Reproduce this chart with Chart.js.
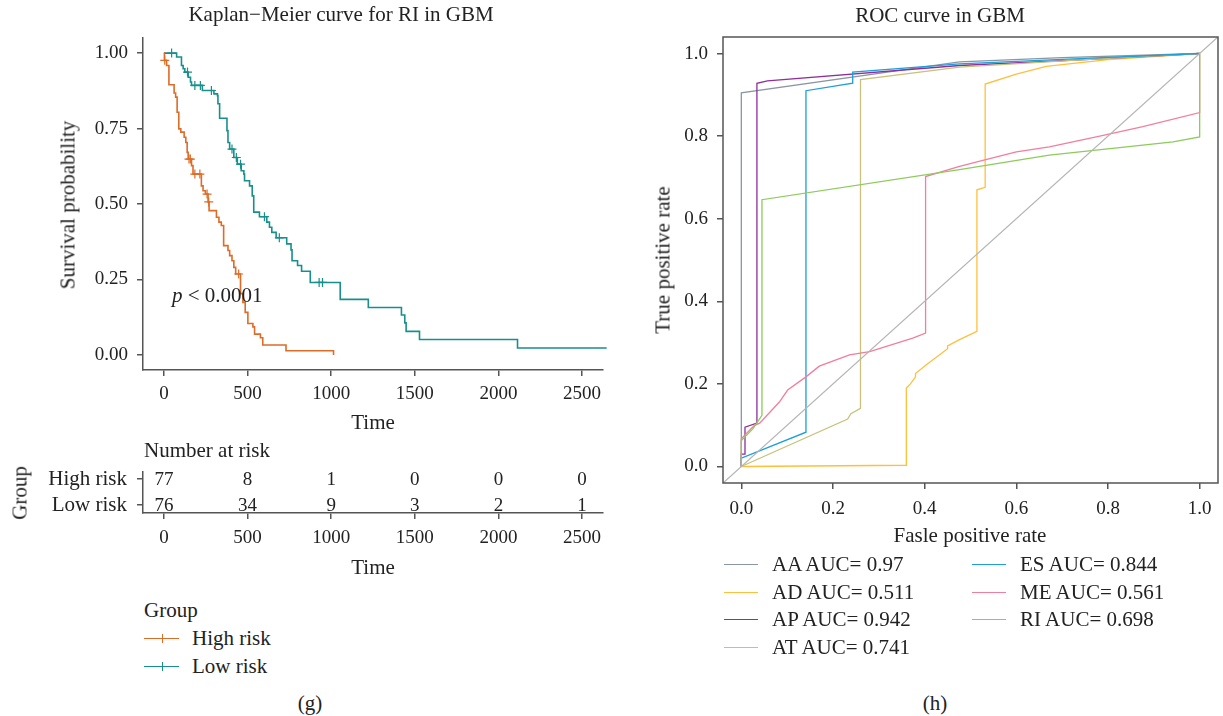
<!DOCTYPE html>
<html>
<head>
<meta charset="utf-8">
<script src="https://cdn.jsdelivr.net/npm/chart.js@4.4.1/dist/chart.umd.min.js"></script>
<style>
  body { margin: 0; background: #fff; width: 1223px; height: 716px; position: relative; overflow: hidden; }
  canvas { position: absolute; }
  .t { position: absolute; white-space: nowrap; font: 21px "Liberation Serif", "Times New Roman", serif; color: #222; line-height: 1; }
  .c { transform: translate(-50%, -50%); }
  .l { transform: translate(0, -50%); }
  .r { transform: translate(-50%, -50%) rotate(-90deg); }
  .key { position: absolute; height: 0; }
  .tick { position: absolute; width: 0; }
</style>
</head>
<body>

<canvas id="kmChart" width="620" height="440" style="left:0;top:0"></canvas>
<canvas id="riskChart" width="620" height="130" style="left:0;top:455px"></canvas>
<canvas id="rocChart" width="603" height="545" style="left:620px;top:0"></canvas>

<div class="t c" style="left:341px;top:14px">Kaplan−Meier curve for RI in GBM</div>
<div class="t r" style="left:68px;top:205px">Survival probability</div>
<div class="t c" style="left:373px;top:422px">Time</div>
<div class="t l" style="left:172px;top:295px"><i>p</i> &lt; 0.0001</div>
<div class="t l" style="left:144px;top:450px">Number at risk</div>
<div class="t r" style="left:20px;top:493px">Group</div>
<div class="t c" style="left:373px;top:567px">Time</div>
<div class="t l" style="left:144px;top:610px">Group</div>
<div class="t c" style="left:310px;top:703px">(g)</div>

<div class="t c" style="left:940px;top:15px">ROC curve in GBM</div>
<div class="t r" style="left:663px;top:260px">True positive rate</div>
<div class="t c" style="left:970px;top:535px">Fasle positive rate</div>
<div class="t c" style="left:935px;top:703px">(h)</div>

<script>
// ---- Kaplan-Meier data ----
const groupNames = ['High risk', 'Low risk'];
const groupColors = ['#DD6C27', '#17908B'];

const highTime = [0, 3, 16, 30, 61, 70, 79, 89, 101, 121, 131, 139, 145, 165, 174, 224, 234, 248, 264, 270,
  314, 329, 343, 357, 383, 393, 407, 418, 429, 458, 472, 486, 502, 532, 542, 577, 591, 730, 1014];
const highSurv = [1, 0.976, 0.959, 0.895, 0.868, 0.854, 0.804, 0.749, 0.738, 0.721, 0.704, 0.671, 0.649, 0.627, 0.599, 0.560, 0.544, 0.533, 0.507, 0.478,
  0.456, 0.440, 0.429, 0.362, 0.346, 0.329, 0.312, 0.290, 0.268, 0.203, 0.174, 0.141, 0.104, 0.093, 0.069, 0.057, 0.033, 0.014, 0];
const highCensorTime = [5, 150, 158, 185, 215, 258, 268, 447];
const highCensorSurv = [0.976, 0.649, 0.649, 0.599, 0.599, 0.533, 0.507, 0.268];

const lowTime = [0, 76, 105, 115, 125, 145, 159, 165, 230, 299, 320, 323, 333, 377, 383, 393, 418, 439, 462, 478,
  482, 512, 528, 537, 571, 615, 631, 645, 671, 734, 760, 766, 799, 823, 875, 1054, 1222, 1420, 1440, 1448, 1528, 2114, 2647];
const lowSurv = [1, 0.987, 0.959, 0.948, 0.937, 0.920, 0.904, 0.893, 0.876, 0.865, 0.859, 0.832, 0.784, 0.743, 0.704, 0.682, 0.654, 0.632, 0.610, 0.599,
  0.577, 0.560, 0.527, 0.473, 0.458, 0.440, 0.423, 0.406, 0.388, 0.368, 0.348, 0.312, 0.296, 0.277, 0.240, 0.184, 0.157, 0.132, 0.106, 0.078, 0.051, 0.023, 0.023];
const lowCensorTime = [46, 141, 185, 218, 284, 407, 433, 458, 601, 690, 928, 948];
const lowCensorSurv = [1, 0.937, 0.893, 0.893, 0.876, 0.682, 0.654, 0.632, 0.458, 0.388, 0.240, 0.240];

const timeTicks = [0, 500, 1000, 1500, 2000, 2500];
const survTicks = [0, 0.25, 0.5, 0.75, 1];

// number at risk table
const riskTimes = [0, 500, 1000, 1500, 2000, 2500];
const riskHigh = [77, 8, 1, 0, 0, 0];
const riskLow = [76, 34, 9, 3, 2, 1];

// ---- ROC data ----
const rocNames = ['AA', 'AD', 'AP', 'AT', 'ES', 'ME', 'RI'];
const rocAuc = ['0.97', '0.511', '0.942', '0.741', '0.844', '0.561', '0.698'];
const rocColors = ['#8A96A3', '#FFBF3C', '#8E2F9C', '#C8C27C', '#1D9FD8', '#F27E9E', '#8DCB5C'];

const aaFpr = [0, 0, 0.476, 0.7, 1];
const aaTpr = [0, 0.905, 0.98, 0.99, 1];
const adFpr = [0, 0.36, 0.36, 0.369, 0.38, 0.38, 0.403, 0.45, 0.45, 0.476, 0.514, 0.514, 0.532, 0.532, 0.6, 0.665, 0.8, 1];
const adTpr = [0, 0.003, 0.19, 0.2, 0.217, 0.225, 0.246, 0.285, 0.292, 0.307, 0.327, 0.67, 0.676, 0.926, 0.95, 0.969, 0.985, 1];
const apFpr = [0, 0, 0.008, 0.008, 0.034, 0.034, 0.057, 0.476, 0.75, 1];
const apTpr = [0, 0.03, 0.03, 0.095, 0.105, 0.928, 0.934, 0.971, 0.985, 1];
const atFpr = [0, 0.232, 0.239, 0.26, 0.26, 0.476, 0.75, 1];
const atTpr = [0, 0.115, 0.128, 0.141, 0.937, 0.967, 0.985, 1];
const esFpr = [0, 0, 0.141, 0.141, 0.243, 0.243, 0.476, 0.75, 1];
const esTpr = [0, 0.02, 0.083, 0.91, 0.928, 0.955, 0.975, 0.988, 1];
const meFpr = [0, 0, 0.01, 0.028, 0.04, 0.083, 0.101, 0.141, 0.17, 0.236, 0.28, 0.374, 0.402, 0.402, 0.476, 0.527, 0.6, 0.672, 0.782, 0.876, 1, 1];
const meTpr = [0, 0.067, 0.079, 0.099, 0.105, 0.156, 0.185, 0.217, 0.243, 0.27, 0.278, 0.311, 0.323, 0.702, 0.727, 0.741, 0.762, 0.774, 0.8, 0.823, 0.857, 1];
const riFpr = [0, 0, 0.025, 0.045, 0.045, 0.476, 0.672, 0.942, 1, 1];
const riTpr = [0, 0.063, 0.091, 0.124, 0.646, 0.719, 0.754, 0.786, 0.798, 1];

const rocFpr = [aaFpr, adFpr, apFpr, atFpr, esFpr, meFpr, riFpr];
const rocTpr = [aaTpr, adTpr, apTpr, atTpr, esTpr, meTpr, riTpr];
const rateTicks = [0, 0.2, 0.4, 0.6, 0.8, 1];

const serif = '"Liberation Serif", "Times New Roman", serif';
Chart.defaults.font.family = serif;
Chart.defaults.font.size = 19;
Chart.defaults.color = '#222';
Chart.defaults.animation = false;
Chart.defaults.plugins.legend.display = false;
Chart.defaults.plugins.tooltip.enabled = false;

const axisColor = '#555';

function pairs(xs, ys) {
    return xs.map((x, i) => ({ x: x, y: ys[i] }));
}

// shared axis setup: fixed tick list, outward tick marks, no grid inside
function axis(opts) {
    return {
        type: 'linear',
        position: opts.position,
        min: opts.min,
        max: opts.max,
        grid: { drawOnChartArea: false, drawTicks: true, tickLength: 6, color: axisColor, lineWidth: 1.5 },
        border: { display: opts.border !== false, color: axisColor, width: 1.5 },
        ticks: {
            padding: opts.padding,
            color: '#222',
            font: { family: serif, size: opts.fontSize || 19 },
            autoSkip: false,
            maxRotation: 0,
            callback: opts.format
        },
        afterBuildTicks: s => { s.ticks = opts.ticks.map(v => ({ value: v })); },
        afterFit: s => {
            // chart area is set by layout padding alone
            s.paddingTop = 0; s.paddingBottom = 0;
            s.paddingLeft = 0; s.paddingRight = 0;
            if (opts.position === 'left') s.width = opts.size;
            else s.height = opts.size;
        }
    };
}

// ---- survival curves ----
new Chart(document.getElementById('kmChart'), {
    type: 'line',
    data: {
        datasets: [
            { data: pairs(highTime, highSurv), borderColor: groupColors[0], borderWidth: 1.6, stepped: 'before', pointRadius: 0, clip: 8 },
            { data: pairs(lowTime, lowSurv), borderColor: groupColors[1], borderWidth: 1.6, stepped: 'before', pointRadius: 0, clip: 8 },
            { data: pairs(highCensorTime, highCensorSurv), showLine: false, pointStyle: 'cross', pointRadius: 4.5, borderColor: groupColors[0], borderWidth: 1.2 },
            { data: pairs(lowCensorTime, lowCensorSurv), showLine: false, pointStyle: 'cross', pointRadius: 4.5, borderColor: groupColors[1], borderWidth: 1.2 }
        ]
    },
    options: {
        responsive: false,
        layout: { padding: { left: 0, top: 38, right: 17, bottom: 0 } },
        scales: {
            x: axis({ position: 'bottom', min: -125, max: 2625, ticks: timeTicks, format: v => String(v), padding: 7, size: 70 }),
            y: axis({ position: 'left', min: -0.05, max: 1.05, ticks: survTicks, format: v => v.toFixed(2), padding: 9, size: 143 })
        }
    }
});

// ---- number at risk ----
const riskNumbers = {
    id: 'riskNumbers',
    afterDatasetsDraw(chart) {
        const { ctx, scales: { x, y } } = chart;
        ctx.save();
        ctx.font = '19px ' + serif;
        ctx.fillStyle = '#222';
        ctx.textAlign = 'center';
        ctx.textBaseline = 'middle';
        riskTimes.forEach((t, i) => {
            ctx.fillText(String(riskHigh[i]), x.getPixelForValue(t), y.getPixelForValue(1) + 1);
            ctx.fillText(String(riskLow[i]), x.getPixelForValue(t), y.getPixelForValue(0) + 1);
        });
        ctx.restore();
    }
};

new Chart(document.getElementById('riskChart'), {
    type: 'scatter',
    data: { datasets: [] },
    options: {
        responsive: false,
        layout: { padding: { left: 0, top: 17, right: 17, bottom: 0 } },
        scales: {
            x: axis({ position: 'bottom', min: -125, max: 2625, ticks: timeTicks, format: v => String(v), padding: 8, size: 72 }),
            y: axis({ position: 'left', min: -0.308, max: 1.269, ticks: [0, 1], format: v => (v === 1 ? groupNames[0] : groupNames[1]), padding: 10, size: 143, fontSize: 21 })
        }
    },
    plugins: [riskNumbers]
});

// ---- ROC curves ----
const frameBox = {
    id: 'frameBox',
    afterDraw(chart) {
        const { ctx, chartArea: a } = chart;
        ctx.save();
        ctx.strokeStyle = axisColor;
        ctx.lineWidth = 1.5;
        ctx.strokeRect(a.left, a.top, a.right - a.left, a.bottom - a.top);
        ctx.restore();
    }
};

const rocSets = rocNames.map((name, i) => ({
    data: pairs(rocFpr[i], rocTpr[i]),
    borderColor: rocColors[i],
    borderWidth: 1.3,
    pointRadius: 0,
    order: rocNames.length - i
}));
rocSets.push({
    data: [{ x: -0.04, y: -0.04 }, { x: 1.04, y: 1.04 }],
    borderColor: '#B5B5B5',
    borderWidth: 1.3,
    pointRadius: 0,
    order: 0
});

new Chart(document.getElementById('rocChart'), {
    type: 'line',
    data: { datasets: rocSets },
    options: {
        responsive: false,
        layout: { padding: { left: 0, top: 37, right: 5, bottom: 0 } },
        scales: {
            x: axis({ position: 'bottom', min: -0.04, max: 1.04, ticks: rateTicks, format: v => v.toFixed(1), padding: 9, size: 62, border: false }),
            y: axis({ position: 'left', min: -0.04, max: 1.04, ticks: rateTicks, format: v => v.toFixed(1), padding: 9, size: 103, border: false })
        }
    },
    plugins: [frameBox]
});

// ---- legends ----
function addKey(left, top, width, color, withTick) {
    const line = document.createElement('div');
    line.className = 'key';
    line.style.cssText = `left:${left}px;top:${top}px;width:${width}px;border-top:1.6px solid ${color}`;
    document.body.appendChild(line);
    if (withTick) {
        const tick = document.createElement('div');
        tick.className = 'tick';
        tick.style.cssText = `left:${left + width / 2}px;top:${top - 4}px;height:9px;border-left:1.3px solid ${color}`;
        document.body.appendChild(tick);
    }
}

function addText(left, top, text) {
    const el = document.createElement('div');
    el.className = 't l';
    el.style.left = left + 'px';
    el.style.top = top + 'px';
    el.textContent = text;
    document.body.appendChild(el);
}

groupNames.forEach((name, i) => {
    const y = 638 + i * 28;
    addKey(144, y, 35, groupColors[i], true);
    addText(192, y, name);
});

rocNames.forEach((name, i) => {
    const col = i < 4 ? 0 : 1;
    const row = i < 4 ? i : i - 4;
    const y = 564 + row * 27.5;
    const x = col === 0 ? 724 : 972;
    addKey(x, y, 34, rocColors[i], false);
    addText(x + 48, y, name + ' AUC= ' + rocAuc[i]);
});
</script>
</body>
</html>
